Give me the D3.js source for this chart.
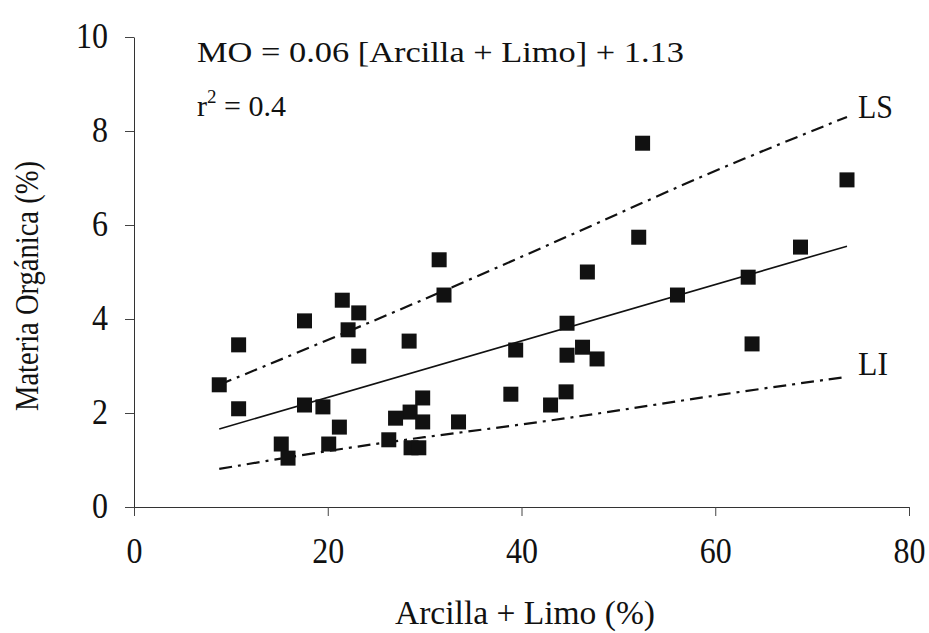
<!DOCTYPE html>
<html>
<head>
<meta charset="utf-8">
<script src="https://cdn.jsdelivr.net/npm/d3@7"></script>
<style>
  body { margin: 0; background: #fff; }
  svg text { font-family: "Liberation Serif", serif; fill: #111; }
</style>
</head>
<body>
<div class="canva"></div>
<script>
// datos
const arcillaLimo = [8.8, 10.8, 10.8, 15.2, 15.9, 17.6, 17.6, 19.5, 20.1, 21.2, 21.5, 22.1, 23.2, 23.2,
  31.5, 32.0, 28.4, 29.8, 28.5, 27.0, 29.8, 26.3, 28.6, 29.4, 33.5, 38.9, 39.4, 43.0, 44.6, 44.7,
  44.7, 46.3, 47.8, 46.8, 52.1, 52.5, 56.1, 63.4, 63.8, 68.8, 73.6];
const materiaOrganica = [2.60, 3.45, 2.09, 1.34, 1.04, 3.96, 2.17, 2.13, 1.34, 1.70, 4.40, 3.77, 4.13, 3.21,
  5.26, 4.51, 3.53, 2.32, 2.02, 1.89, 1.81, 1.43, 1.26, 1.26, 1.81, 2.40, 3.34, 2.17, 2.45, 3.91,
  3.23, 3.40, 3.15, 5.00, 5.74, 7.74, 4.51, 4.89, 3.47, 5.53, 6.96];

// regresion y limites (LS / LI)
const lineaX = [8.8, 73.6];
const lineaY = [1.66, 5.55];
const limX = [8.8, 20, 30, 40, 50, 60, 73.6];
const limSup = [2.6, 3.55, 4.42, 5.32, 6.24, 7.17, 8.3];
const limInf = [0.81, 1.2, 1.49, 1.75, 2.05, 2.38, 2.77];

const xTicks = [0, 20, 40, 60, 80];
const yTicks = [0, 2, 4, 6, 8, 10];

const svg = d3.select(".canva").append("svg")
  .attr("width", 929)
  .attr("height", 633);

const x = d3.scaleLinear().domain([0, 80]).range([134, 909]);
const y = d3.scaleLinear().domain([0, 10]).range([507, 37]);

// ejes
const ejeX = svg.append("g")
  .attr("transform", "translate(0,507)")
  .call(d3.axisBottom(x).tickValues(xTicks).tickSize(9).tickSizeOuter(0));
const ejeY = svg.append("g")
  .attr("transform", "translate(134,0)")
  .call(d3.axisLeft(y).tickValues(yTicks).tickSize(9).tickPadding(17).tickSizeOuter(0));

[ejeX, ejeY].forEach(g => {
  g.attr("font-family", null);
  g.select(".domain").attr("stroke", "#333").attr("stroke-width", 1);
  g.selectAll(".tick line").attr("stroke", "#444");
  g.selectAll(".tick text")
    .style("font-size", "35px")
    .attr("fill", "#111")
    .attr("lengthAdjust", "spacingAndGlyphs")
    .attr("textLength", function() { return this.textContent.length * 16; });
});
ejeX.selectAll(".tick text").attr("y", 56).attr("dy", 0);
ejeY.selectAll(".tick text").attr("dy", "0.3em");

// lineas
const linea = d3.line().x(d => x(d[0])).y(d => y(d[1]));

svg.append("path")
  .datum(d3.zip(lineaX, lineaY))
  .attr("d", linea)
  .attr("fill", "none")
  .attr("stroke", "#111")
  .attr("stroke-width", 1.6);

[limSup, limInf].forEach(serie => {
  svg.append("path")
    .datum(d3.zip(limX, serie))
    .attr("d", d3.line().curve(d3.curveBasis).x(d => x(d[0])).y(d => y(d[1])))
    .attr("fill", "none")
    .attr("stroke", "#111")
    .attr("stroke-width", 2.2)
    .attr("stroke-dasharray", "13,6,3,6");
});

// puntos
const lado = 15;
svg.selectAll("rect.punto")
  .data(d3.zip(arcillaLimo, materiaOrganica))
  .enter()
  .append("rect")
  .attr("class", "punto")
  .attr("x", d => x(d[0]) - lado / 2)
  .attr("y", d => y(d[1]) - lado / 2)
  .attr("width", lado)
  .attr("height", lado)
  .attr("fill", "#111");

// textos
svg.append("text").attr("x", 197).attr("y", 62).style("font-size", "30px")
  .attr("textLength", 487).attr("lengthAdjust", "spacingAndGlyphs")
  .text("MO = 0.06 [Arcilla + Limo] + 1.13");

const r2 = svg.append("text").attr("x", 197).attr("y", 116).style("font-size", "30px");
r2.append("tspan").text("r");
r2.append("tspan").attr("dy", -13).style("font-size", "19px").text("2");
r2.append("tspan").attr("dy", 13).text(" = 0.4");

svg.append("text").attr("x", 858).attr("y", 118).style("font-size", "34px")
  .attr("textLength", 35).attr("lengthAdjust", "spacingAndGlyphs").text("LS");
svg.append("text").attr("x", 858).attr("y", 375).style("font-size", "34px")
  .attr("textLength", 30).attr("lengthAdjust", "spacingAndGlyphs").text("LI");

svg.append("text")
  .attr("x", 525).attr("y", 624)
  .attr("text-anchor", "middle")
  .style("font-size", "34px")
  .attr("textLength", 260).attr("lengthAdjust", "spacingAndGlyphs")
  .text("Arcilla + Limo (%)");

svg.append("text")
  .attr("transform", "translate(38,286) rotate(-90)")
  .attr("text-anchor", "middle")
  .style("font-size", "33px")
  .attr("textLength", 250).attr("lengthAdjust", "spacingAndGlyphs")
  .text("Materia Orgánica (%)");
</script>
</body>
</html>
